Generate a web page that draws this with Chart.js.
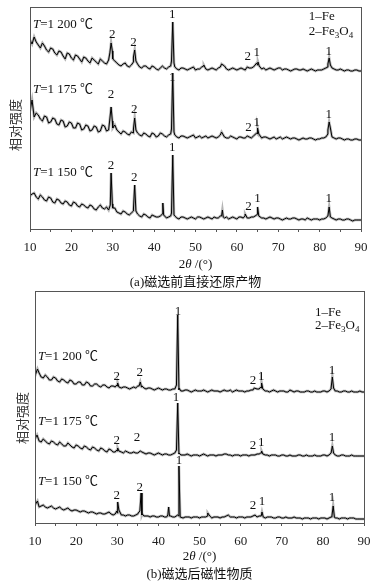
<!DOCTYPE html>
<html>
<head>
<meta charset="utf-8">
<script src="https://cdn.jsdelivr.net/npm/chart.js@4.4.0/dist/chart.umd.min.js"></script>
<style>
html, body { margin: 0; padding: 0; background: #fff; }
#wrapA { position: absolute; left: 0; top: 0; width: 381px; height: 290px; }
#wrapB { position: absolute; left: 0; top: 290px; width: 381px; height: 297px; }
</style>
</head>
<body>
<div id="wrapA"><canvas id="chartA" width="381" height="290"></canvas></div>
<div id="wrapB"><canvas id="chartB" width="381" height="297"></canvas></div>
<script>
// background arrays: whole degrees 10..90, "mid" arrays: 10.5..89.5
const twoThetaStart = 10;

// (a) before magnetic separation
const a1200 = [189,192,184,186,179,181,176,178,173,176,171,174,170,172,168,171,167,170,166,169,170,166,163,166,162,167,165,161,163,160,162,159,163,160,163,162,159,161,159,161,159,160,163,159,161,159,162,163,159,161,159,161,159,161,162,164,160,159,161,159,161,159,160,158,160,159,160,158,160,158,159,160,162,161,159,160,158,159,158,159,158];
const a1200Mid = [185,187,181,183,177,180,174,177,170,175,169,173,167,171,166,169,165,168,165,166,168,164,165,163,164,166,162,163,161,163,160,161,161,162,163,160,161,160,160,162,160,162,160,160,160,161,161,160,160,160,160,160,162,161,163,162,161,160,160,160,161,160,159,159,160,159,159,159,159,159,159,161,163,160,159,159,159,158,159,158];
const a1200Peaks = [[29.3,176],[29.6,186],[29.9,178],[35.0,172],[35.3,179],[35.6,168],[44.2,168],[44.5,207],[44.8,166],[52.0,164],[56.3,165],[64.8,166],[65.1,167],[65.4,163],[82.0,165],[82.3,171],[82.6,164]];
const a1175 = [118,112,114,108,112,107,110,104,108,103,106,101,105,100,103,99,102,98,103,99,101,99,95,97,94,96,96,93,95,92,95,93,95,92,95,94,91,93,91,93,91,93,92,91,93,91,94,92,91,92,90,92,91,92,93,95,91,92,90,92,91,90,92,90,91,89,91,90,91,89,90,91,95,92,90,91,89,90,89,90,89];
const a1175Mid = [121,116,110,113,106,111,105,109,102,107,101,106,99,104,98,103,97,104,98,100,103,97,98,95,97,97,94,96,93,96,92,96,93,94,95,92,93,92,92,94,92,91,93,92,92,92,93,91,93,91,92,91,93,91,94,93,92,91,91,90,92,91,91,91,90,90,90,91,90,90,91,92,104,91,91,90,90,89,90,89];
const a1175Peaks = [[10.5,129],[29.3,110],[29.6,122],[29.9,108],[30.5,104],[35.0,100],[35.3,111],[35.6,99],[44.2,100],[44.5,156],[44.8,97],[56.3,97],[64.8,96],[65.0,101],[65.3,95],[82.0,99],[82.3,107],[82.6,101],[82.9,94]];
const a1150 = [33,36,30,32,28,31,26,29,25,27,23,26,22,24,21,23,19,24,20,19,21,17,15,17,14,18,15,12,14,11,13,12,15,11,13,13,10,12,10,12,10,12,10,12,10,11,13,11,10,12,10,12,13,11,12,15,11,10,12,10,11,9,11,10,11,9,10,11,9,10,9,10,13,11,9,10,9,10,8,9,9];
const a1150Mid = [35,32,34,29,32,27,30,26,28,24,27,23,25,22,24,20,22,21,22,20,21,16,18,15,16,17,13,15,12,14,12,13,12,12,12,11,12,11,11,11,12,11,11,11,12,11,14,12,11,11,12,11,11,12,13,12,11,11,11,11,10,10,10,11,10,10,9,10,10,10,10,11,15,10,10,9,10,9,9,9];
const a1150Peaks = [[29.4,24],[29.6,56],[29.9,25],[30.5,21],[35.0,20],[35.3,44],[35.6,18],[42.1,26],[42.3,14],[44.2,16],[44.5,74],[44.8,14],[56.3,13],[56.5,19],[56.7,12],[62.0,15],[64.8,14],[65.0,22],[65.3,13],[82.0,13],[82.3,22],[82.6,12]];

// (b) magnetic fraction after separation
const b1200 = [147,150,145,146,143,145,141,143,140,142,139,141,138,140,137,139,136,138,135,137,137,135,136,134,136,137,137,134,135,133,135,133,134,133,134,133,132,133,131,133,132,133,131,133,132,131,133,132,131,133,132,131,132,133,134,135,132,131,133,131,132,131,133,131,132,131,132,131,132,131,132,131,134,132,131,132,131,132,131,132,131];
const b1200Mid = [152,146,148,143,146,142,144,141,143,139,141,138,141,137,139,137,138,136,137,136,138,136,135,135,135,138,135,135,134,134,134,134,133,134,135,132,133,132,132,132,132,132,132,132,132,132,132,133,132,132,132,132,133,134,134,133,132,132,132,132,132,131,132,132,131,131,132,131,131,131,132,132,140,132,131,132,131,131,131,131];
const b1200Peaks = [[10.6,154],[29.9,138],[30.1,140],[30.4,136],[35.3,137],[35.6,141],[35.9,136],[44.4,138],[44.7,208],[45.0,135],[63.3,135],[64.9,136],[65.1,140],[65.4,134],[82.0,135],[82.3,146],[82.6,135]];
const b1175 = [84,82,84,80,82,79,81,77,80,76,78,75,77,74,76,73,75,72,74,71,72,71,72,70,71,70,71,69,70,68,70,68,69,68,70,69,68,69,67,68,67,69,67,68,67,68,69,68,67,68,67,68,67,68,69,70,68,67,68,67,68,67,68,67,68,67,68,67,68,67,68,67,70,68,67,68,67,68,67,67,67];
const b1175Mid = [86,81,82,79,81,78,79,77,78,75,77,74,76,73,75,72,74,71,73,71,73,70,71,70,70,71,70,70,69,69,69,69,68,69,70,68,68,68,68,68,68,68,68,68,68,68,69,68,68,68,68,68,68,68,69,69,68,68,68,67,68,67,67,67,68,67,67,67,67,67,68,68,74,67,68,67,67,67,67,67];
const b1175Peaks = [[10.5,88],[29.9,73],[30.1,75],[30.4,72],[35.6,72],[44.4,73],[44.7,120],[45.0,70],[64.9,70],[65.1,72],[65.4,69],[82.0,70],[82.3,77],[82.6,70]];
const b1150 = [18,16,18,15,17,14,16,13,15,12,13,11,12,10,11,9,10,9,11,8,10,8,7,8,7,9,8,7,6,7,6,7,6,7,6,7,5,6,5,6,5,6,7,5,6,5,6,8,6,5,6,5,6,7,6,7,5,6,5,6,5,6,5,6,5,4,5,4,5,4,5,4,6,5,4,5,4,5,4,4,4];
const b1150Mid = [20,17,16,16,15,15,14,14,13,13,12,12,11,11,10,10,9,10,9,9,11,8,8,7,8,11,7,7,7,6,7,6,9,6,7,6,6,6,6,6,6,6,7,6,6,6,7,6,6,6,6,6,6,7,7,6,6,6,5,6,5,5,5,5,5,5,5,5,5,5,5,5,12,5,5,5,5,5,4,4];
const b1150Peaks = [[10.6,22],[29.9,12],[30.1,21],[30.4,13],[35.1,10],[35.5,12],[35.8,30],[36.1,9],[42.3,8],[42.5,16],[42.7,7],[44.7,8],[45.0,57],[45.3,6],[52.0,10],[63.5,8],[65.0,7],[65.2,11],[65.5,6],[82.2,7],[82.5,17],[82.8,6]];

const tempLabels = ['1 200 \u2103', '1 175 \u2103', '1 150 \u2103'];
const captionA = '(a)磁选前直接还原产物';
const captionB = '(b)磁选后磁性物质';
const yTitle = '相对强度';

const SERIF = '"Liberation Serif", "Noto Sans CJK SC", serif';

function buildPoints(bg, mid, peaks) {
  const pts = bg.map((y, i) => ({ x: twoThetaStart + i, y: y }));
  mid.forEach((y, i) => {
    const x = twoThetaStart + i + 0.5;
    if (!peaks.some(p => Math.abs(p[0] - x) < 0.3)) pts.push({ x: x, y: y });
  });
  peaks.forEach(p => pts.push({ x: p[0], y: p[1] }));
  pts.sort((a, b) => a.x - b.x);
  return pts;
}

function partFont(p, size) {
  const s = p.sub ? Math.round(size * 0.7) : size;
  return (p.it ? 'italic ' : '') + s + 'px ' + SERIF;
}

function rich(ctx, parts, x, y, size, align) {
  let w = 0;
  parts.forEach(p => { ctx.font = partFont(p, size); p.w = ctx.measureText(p.t).width; w += p.w; });
  let cx = align === 'center' ? x - w / 2 : x;
  parts.forEach(p => {
    ctx.font = partFont(p, size);
    ctx.fillText(p.t, cx, y + (p.sub ? size * 0.28 : 0));
    cx += p.w;
  });
}

const xrdText = {
  id: 'xrdText',
  afterDraw(chart, args, o) {
    const ctx = chart.ctx, xs = chart.scales.x, ys = chart.scales.y, ca = chart.chartArea;
    const X = v => xs.getPixelForValue(v), Y = v => ys.getPixelForValue(v);
    ctx.save();
    ctx.strokeStyle = '#555';
    ctx.lineWidth = 1;
    ctx.strokeRect(ca.left + 0.5, ca.top + 0.5, ca.right - ca.left, ca.bottom - ca.top);

    ctx.fillStyle = '#111';
    ctx.textBaseline = 'middle';
    ctx.textAlign = 'left';
    o.temps.forEach((t, i) => {
      rich(ctx, [{ t: 'T', it: true }, { t: '=' + tempLabels[i] }], X(o.tempX), Y(t), 13, 'left');
    });
    o.peaks.forEach(p => {
      rich(ctx, [{ t: p[2] }], X(p[0]), Y(p[1]), 13, 'center');
    });
    rich(ctx, [{ t: '1\u2013Fe' }], X(o.legendX), Y(o.legendY[0]), 13, 'left');
    rich(ctx, [{ t: '2\u2013Fe' }, { t: '3', sub: true }, { t: 'O' }, { t: '4', sub: true }], X(o.legendX), Y(o.legendY[1]), 13, 'left');

    const midX = (ca.left + ca.right) / 2;
    rich(ctx, [{ t: '2' }, { t: '\u03b8', it: true }, { t: ' /(\u00b0)' }], midX, ca.bottom + o.titleDy, 13, 'center');
    rich(ctx, [{ t: o.caption }], midX, ca.bottom + o.capDy, 13, 'center');

    ctx.font = '13px "Noto Sans CJK SC", sans-serif';
    ctx.fillStyle = '#333';
    ctx.translate(ca.left - o.yTitleDx, Y(o.yTitleY));
    ctx.rotate(-Math.PI / 2);
    ctx.textAlign = 'center';
    ctx.fillText(yTitle, 0, 0);
    ctx.restore();
  }
};

function makeChart(id, series, yMax, pad, xHeight, text) {
  const sets = [];
  series.forEach(s => {
    sets.push({ data: s, borderColor: '#000', borderWidth: 1, pointRadius: 0, tension: 0, order: 0 });
    sets.push({ data: s, borderColor: 'rgba(90,90,90,0.45)', borderWidth: 2.6, pointRadius: 0, tension: 0, order: 1 });
  });
  return new Chart(document.getElementById(id), {
    type: 'line',
    data: { datasets: sets },
    options: {
      animation: false,
      responsive: false,
      layout: { padding: pad },
      plugins: { legend: { display: false }, tooltip: { enabled: false }, xrdText: text },
      scales: {
        x: {
          type: 'linear',
          min: 10,
          max: 90,
          afterFit: s => { s.height = xHeight; },
          border: { display: false },
          grid: { drawOnChartArea: false, drawTicks: true, tickLength: 3, tickColor: '#555' },
          ticks: {
            stepSize: 5,
            autoSkip: false,
            maxRotation: 0,
            padding: 8,
            color: '#222',
            font: { family: SERIF, size: 13 },
            callback: v => (v % 10 === 0 ? v : '')
          }
        },
        y: {
          min: 0,
          max: yMax,
          afterFit: s => { s.width = 0; },
          border: { display: false },
          grid: { display: false },
          ticks: { display: false }
        }
      }
    },
    plugins: [xrdText]
  });
}

makeChart('chartA',
  [buildPoints(a1200, a1200Mid, a1200Peaks), buildPoints(a1175, a1175Mid, a1175Peaks), buildPoints(a1150, a1150Mid, a1150Peaks)],
  222, { left: 30, right: 20, top: 7, bottom: 0 }, 61,
  {
    temps: [204, 139, 56], tempX: 10.7,
    peaks: [
      [29.9,194,'2'],[35.0,186,'2'],[44.4,214,'1'],[62.6,172,'2'],[64.8,176,'1'],[82.2,177,'1'],
      [29.6,134,'2'],[35.2,119,'2'],[44.4,151,'1'],[62.8,101,'2'],[64.8,106,'1'],[82.2,114,'1'],
      [29.6,63,'2'],[35.2,51,'2'],[44.4,81,'1'],[62.8,22,'2'],[65.0,30,'1'],[82.2,30,'1']
    ],
    legendX: 77.4, legendY: [212, 197],
    titleDy: 36, capDy: 54, caption: captionA,
    yTitleDx: 15, yTitleY: 104
  });

makeChart('chartB',
  [buildPoints(b1200, b1200Mid, b1200Peaks), buildPoints(b1175, b1175Mid, b1175Peaks), buildPoints(b1150, b1150Mid, b1150Peaks)],
  232, { left: 35, right: 17, top: 1, bottom: 0 }, 64,
  {
    temps: [166, 101, 41], tempX: 10.7,
    peaks: [
      [29.9,146,'2'],[35.5,150,'2'],[44.8,211,'1'],[63.0,142,'2'],[65.0,146,'1'],[82.2,152,'1'],
      [29.9,82,'2'],[34.8,85,'2'],[44.3,125,'1'],[63.0,77,'2'],[65.0,80,'1'],[82.2,85,'1'],
      [29.9,27,'2'],[35.5,35,'2'],[45.0,62,'1'],[63.0,17,'2'],[65.2,21,'1'],[82.2,25,'1']
    ],
    legendX: 78.1, legendY: [210, 197],
    titleDy: 34, capDy: 52, caption: captionB,
    yTitleDx: 13, yTitleY: 105
  });
</script>
</body>
</html>
